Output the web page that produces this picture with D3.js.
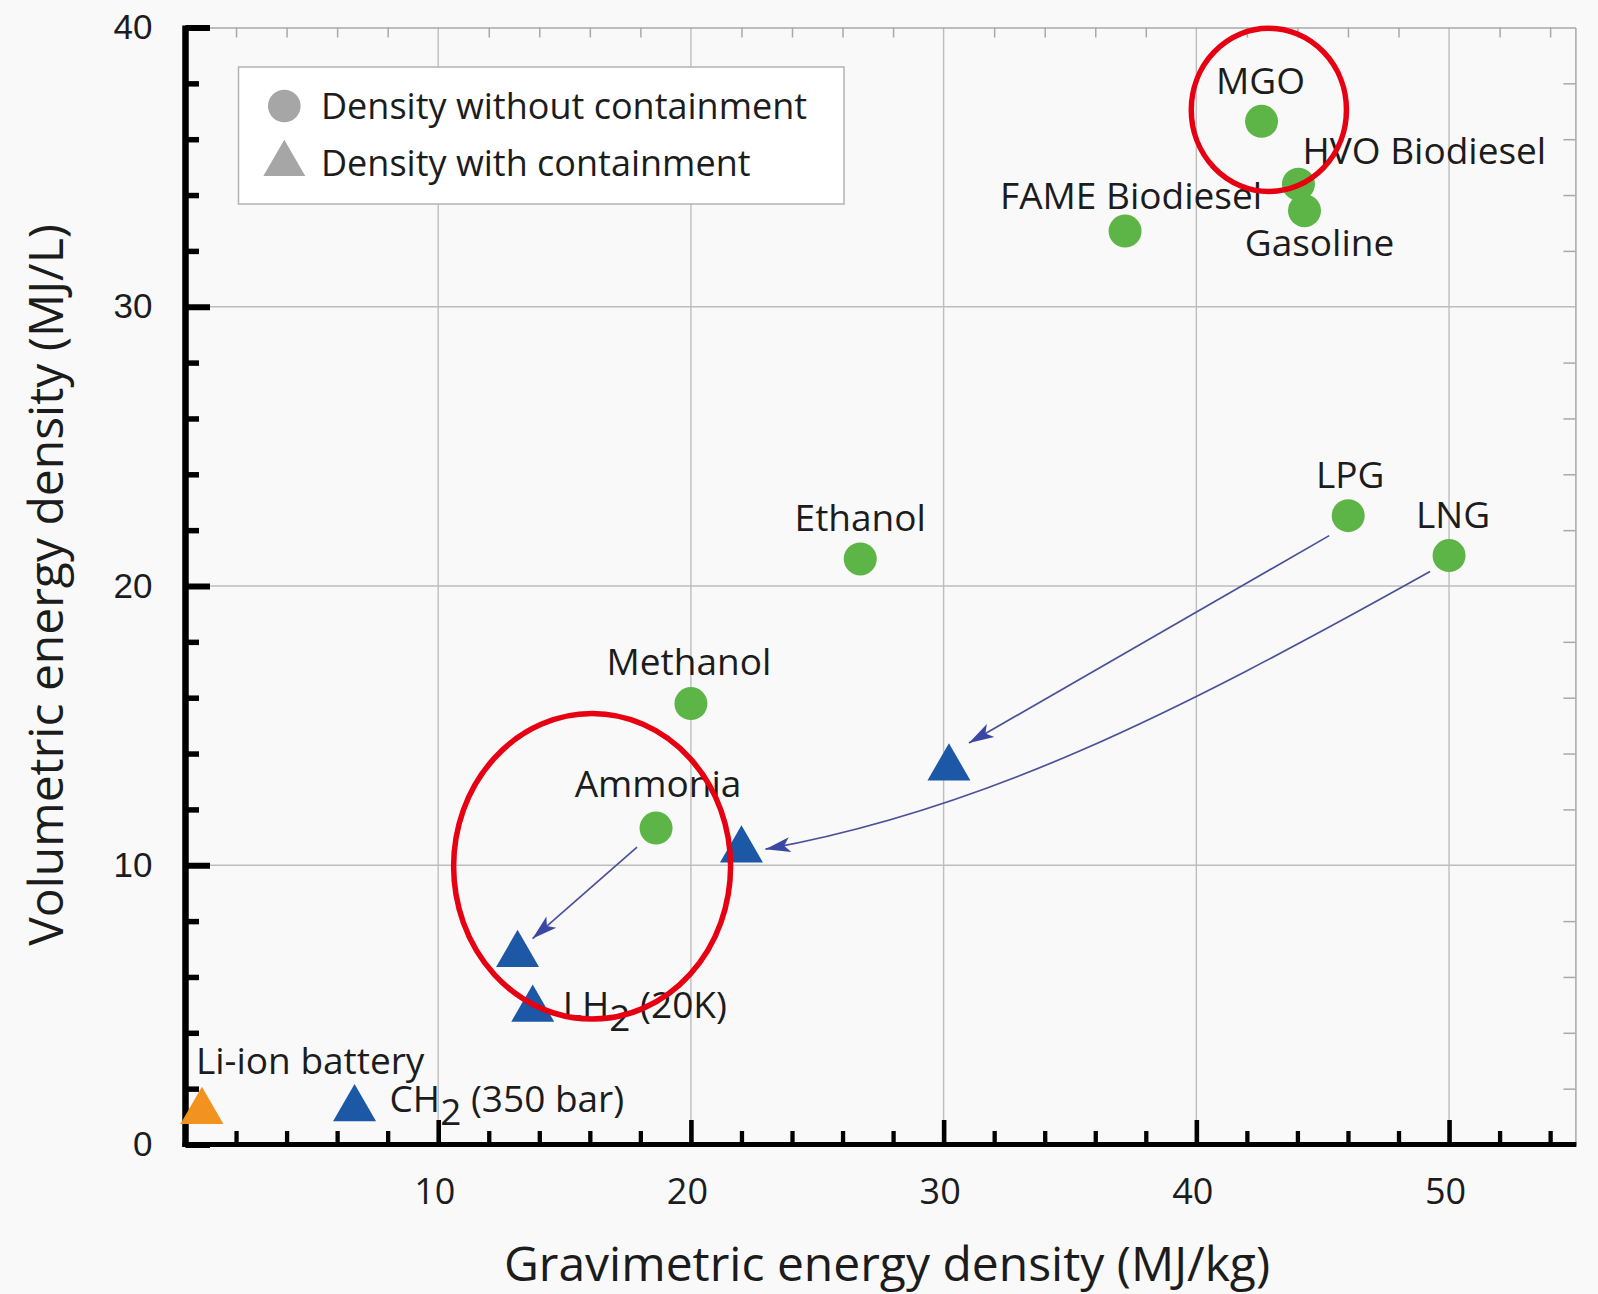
<!DOCTYPE html>
<html>
<head>
<meta charset="utf-8">
<script src="https://cdn.jsdelivr.net/npm/d3@7"></script>
<style>
  html, body { margin: 0; padding: 0; background: #f9f9f9; }
  svg { display: block; }
</style>
</head>
<body>
<svg id="chart" width="1598" height="1294"></svg>
<script>
// ---------- DATA ----------
const fuelNames = ["MGO", "HVO Biodiesel", "Gasoline", "FAME Biodiesel", "LPG", "LNG", "Ethanol", "Methanol", "Ammonia"];
const fuelGrav  = [42.58, 44.04, 44.28, 37.18, 46.01, 50.0, 26.70, 20.0, 18.62];
const fuelVol   = [36.64, 34.39, 33.44, 32.71, 22.52, 21.09, 20.97, 15.79, 11.33];

const containedNames = ["LPG", "LNG", "Ammonia", "LH2 (20K)", "CH2 (350 bar)", "Li-ion battery"];
const containedGrav  = [30.21, 22.0, 13.14, 13.74, 6.69, 0.65];
const containedVol   = [13.48, 10.54, 6.80, 4.84, 1.28, 1.18];
const containedKind  = ["fuel", "fuel", "fuel", "fuel", "fuel", "battery"];
const containedShowLabel = [false, false, false, true, true, true];

const arrowFuels = ["LPG", "LNG", "Ammonia"];   // circle -> triangle of same fuel

const xTicks = [10, 20, 30, 40, 50];
const yTicks = [0, 10, 20, 30, 40];
const xDomain = [0, 55];
const yDomain = [0, 40];

const legendLabels = ["Density without containment", "Density with containment"];
const xTitle = "Gravimetric energy density (MJ/kg)";
const yTitle = "Volumetric energy density (MJ/L)";

// red highlight ellipses (data units)
const highlightCx = [42.87, 16.09];
const highlightCy = [37.05, 9.96];
const highlightRx = [3.07, 5.48];
const highlightRy = [2.92, 5.47];

// ---------- LAYOUT / STYLE ----------
const W = 1598, H = 1294;
const plot = { left: 185.5, right: 1575.4, top: 27.5, bottom: 1144.5 };
const COLORS = {
  fuel: "#5db547", contained: "#1c58a6", battery: "#f2921f",
  legend: "#a6a6a6", grid: "#bdbdbd", frame: "#a9a9a9",
  arrow: "#4b5199", arrowHead: "#3b48a3", red: "#e60012", text: "#1c1c1c"
};
const FONT = "'Open Sans', 'Noto Sans', sans-serif";
const LABEL_SIZE = 37;

const fuelLabelLayout = {
  "MGO":            { anchor: "middle", dx: -1, dy: -27 },
  "HVO Biodiesel":  { anchor: "start",  dx: 4,  dy: -20 },
  "Gasoline":       { anchor: "middle", dx: 15, dy: 45 },
  "FAME Biodiesel": { anchor: "middle", dx: 6,  dy: -22 },
  "LPG":            { anchor: "middle", dx: 2,  dy: -28 },
  "LNG":            { anchor: "middle", dx: 4,  dy: -28 },
  "Ethanol":        { anchor: "middle", dx: 0,  dy: -28 },
  "Methanol":       { anchor: "middle", dx: -2, dy: -29 },
  "Ammonia":        { anchor: "middle", dx: 2,  dy: -31 }
};
const containedLabelLayout = {
  "LH2 (20K)":      { dx: 30, dy: 9 },
  "CH2 (350 bar)":  { dx: 35, dy: 3 },
  "Li-ion battery": { dx: -6, dy: -38 }
};
const arrowLayout = {
  "LPG":     { start: [-19, 20], end: [20, -25] },
  "LNG":     { start: [-19, 16], end: [24, -1], h1: [-265, 148], h2: [215, -39] },
  "Ammonia": { start: [-19, 19], end: [15, -16] }
};

// ---------- SCALES ----------
const x = d3.scaleLinear().domain(xDomain).range([plot.left, plot.right]);
const y = d3.scaleLinear().domain(yDomain).range([plot.bottom, plot.top]);

const svg = d3.select("#chart");
svg.append("rect").attr("width", W).attr("height", H).attr("fill", "#f9f9f9");

const minorX = d3.range(2, xDomain[1] + 1, 2).filter(v => v % 10 !== 0);
const minorY = d3.range(2, yDomain[1], 2).filter(v => v % 10 !== 0);

// grid
const grid = svg.append("g");
grid.selectAll("line.gx").data(xTicks).join("line")
  .attr("x1", d => x(d)).attr("x2", d => x(d))
  .attr("y1", plot.top).attr("y2", plot.bottom)
  .attr("stroke", COLORS.grid).attr("stroke-width", 1.4);
grid.selectAll("line.gy").data(yTicks.filter(v => v > 0 && v < 40)).join("line")
  .attr("x1", plot.left).attr("x2", plot.right)
  .attr("y1", d => y(d)).attr("y2", d => y(d))
  .attr("stroke", COLORS.grid).attr("stroke-width", 1.4);

// top & right frame with small inward ticks
const topAxis = svg.append("g").attr("transform", `translate(0,${plot.top})`)
  .call(d3.axisTop(x).tickValues(minorX).tickSize(-10).tickSizeOuter(0).tickFormat(""));
topAxis.selectAll("path, line").attr("stroke", COLORS.frame).attr("stroke-width", 1.5);
const rightAxis = svg.append("g").attr("transform", `translate(${plot.right},0)`)
  .call(d3.axisRight(y).tickValues(minorY).tickSize(-12).tickSizeOuter(0).tickFormat(""));
rightAxis.selectAll("path, line").attr("stroke", COLORS.frame).attr("stroke-width", 1.5);

// bottom axis (thick black)
const xMinor = svg.append("g").attr("transform", `translate(0,${plot.bottom})`)
  .call(d3.axisBottom(x).tickValues(minorX).tickSize(-13.5).tickSizeOuter(0).tickFormat(""));
xMinor.select(".domain").remove();
xMinor.selectAll("line").attr("stroke", "#000").attr("stroke-width", 4.3);

const xMajor = svg.append("g").attr("transform", `translate(0,${plot.bottom})`)
  .call(d3.axisBottom(x).tickValues(xTicks).tickSize(-24.5).tickSizeOuter(0).tickPadding(34));
xMajor.select(".domain").remove();
xMajor.selectAll("line").attr("stroke", "#000").attr("stroke-width", 4.6);
xMajor.selectAll("text").attr("font-family", FONT).attr("font-size", 36)
  .attr("fill", COLORS.text).attr("dx", -4);

// left axis (thick black)
const yMinor = svg.append("g").attr("transform", `translate(${plot.left},0)`)
  .call(d3.axisLeft(y).tickValues(minorY).tickSize(-13.5).tickSizeOuter(0).tickFormat(""));
yMinor.select(".domain").remove();
yMinor.selectAll("line").attr("stroke", "#000").attr("stroke-width", 5.5);

const yMajor = svg.append("g").attr("transform", `translate(${plot.left},0)`)
  .call(d3.axisLeft(y).tickValues(yTicks).tickSize(-24.5).tickSizeOuter(0).tickPadding(33));
yMajor.select(".domain").remove();
yMajor.selectAll("line").attr("stroke", "#000").attr("stroke-width", 6);
yMajor.selectAll("text").attr("font-family", "'Liberation Sans', Arial, sans-serif")
  .attr("font-size", 35).attr("fill", COLORS.text);

// axis lines
svg.append("line").attr("x1", plot.left).attr("x2", plot.left)
  .attr("y1", plot.top - 2).attr("y2", plot.bottom + 2.5)
  .attr("stroke", "#000").attr("stroke-width", 6.5);
svg.append("line").attr("x1", plot.left - 3).attr("x2", plot.right + 1)
  .attr("y1", plot.bottom).attr("y2", plot.bottom)
  .attr("stroke", "#000").attr("stroke-width", 5);

// axis titles
svg.append("text").attr("x", 887).attr("y", 1281).attr("text-anchor", "middle")
  .attr("font-family", FONT).attr("font-size", 48).attr("fill", COLORS.text).text(xTitle);
svg.append("text").attr("transform", "translate(63,585) rotate(-90)").attr("text-anchor", "middle")
  .attr("font-family", FONT).attr("font-size", 48).attr("fill", COLORS.text).text(yTitle);

// legend
const lg = svg.append("g");
lg.append("rect").attr("x", 238.5).attr("y", 67).attr("width", 605.5).attr("height", 137)
  .attr("fill", "#ffffff").attr("stroke", "#b3b3b3").attr("stroke-width", 1.5);
lg.append("circle").attr("cx", 284.3).attr("cy", 106).attr("r", 16.3).attr("fill", COLORS.legend);
lg.append("path").attr("d", d3.symbol(d3.symbolTriangle, 760)())
  .attr("transform", "translate(284.3,164)").attr("fill", COLORS.legend);
lg.selectAll("text").data(legendLabels).join("text")
  .attr("x", 321).attr("y", (d, i) => 119 + i * 57)
  .attr("font-family", FONT).attr("font-size", 36).attr("fill", COLORS.text).text(d => d);

// arrows
const fuelIndex = n => fuelNames.indexOf(n);
const contIndex = n => containedNames.indexOf(n);
const arrows = svg.append("g");
arrowFuels.forEach(name => {
  const i = fuelIndex(name), j = contIndex(name), L = arrowLayout[name];
  const p0 = [x(fuelGrav[i]) + L.start[0], y(fuelVol[i]) + L.start[1]];
  const p2 = [x(containedGrav[j]) + L.end[0], y(containedVol[j]) + L.end[1]];
  const path = d3.path();
  path.moveTo(p0[0], p0[1]);
  let dir;
  if (L.h1) {
    const c1 = [p0[0] + L.h1[0], p0[1] + L.h1[1]];
    const c2 = [p2[0] + L.h2[0], p2[1] + L.h2[1]];
    path.bezierCurveTo(c1[0], c1[1], c2[0], c2[1], p2[0], p2[1]);
    dir = [p2[0] - c2[0], p2[1] - c2[1]];
  } else {
    path.lineTo(p2[0], p2[1]);
    dir = [p2[0] - p0[0], p2[1] - p0[1]];
  }
  arrows.append("path").attr("d", path.toString()).attr("fill", "none")
    .attr("stroke", COLORS.arrow).attr("stroke-width", 1.7);
  const ang = Math.atan2(dir[1], dir[0]) * 180 / Math.PI;
  arrows.append("path").attr("d", "M0,0 L-25,-7.5 L-19,0 L-25,7.5 Z")
    .attr("transform", `translate(${p2[0]},${p2[1]}) rotate(${ang})`)
    .attr("fill", COLORS.arrowHead);
});

// fuel circles
svg.append("g").selectAll("circle").data(fuelNames).join("circle")
  .attr("cx", (d, i) => x(fuelGrav[i])).attr("cy", (d, i) => y(fuelVol[i]))
  .attr("r", 16.5).attr("fill", COLORS.fuel);

// contained triangles
svg.append("g").selectAll("path").data(containedNames).join("path")
  .attr("d", d3.symbol(d3.symbolTriangle, 800)())
  .attr("transform", (d, i) => `translate(${x(containedGrav[i])},${y(containedVol[i])})`)
  .attr("fill", (d, i) => containedKind[i] === "battery" ? COLORS.battery : COLORS.contained);

// fuel labels
svg.append("g").selectAll("text").data(fuelNames).join("text")
  .attr("x", (d, i) => x(fuelGrav[i]) + fuelLabelLayout[d].dx)
  .attr("y", (d, i) => y(fuelVol[i]) + fuelLabelLayout[d].dy)
  .attr("text-anchor", d => fuelLabelLayout[d].anchor)
  .attr("font-family", FONT).attr("font-size", LABEL_SIZE).attr("fill", COLORS.text)
  .text(d => d);

// contained labels (with subscript 2)
const cl = svg.append("g");
containedNames.forEach((name, i) => {
  if (!containedShowLabel[i]) return;
  const L = containedLabelLayout[name];
  const t = cl.append("text")
    .attr("x", x(containedGrav[i]) + L.dx).attr("y", y(containedVol[i]) + L.dy)
    .attr("font-family", FONT).attr("font-size", LABEL_SIZE).attr("fill", COLORS.text);
  const m = name.match(/^(.*?H)2(.*)$/);
  if (m) {
    t.append("tspan").text(m[1]);
    t.append("tspan").attr("dy", 13).text("2");
    t.append("tspan").attr("dy", -13).text(m[2]);
  } else {
    t.text(name);
  }
});

// red highlight ellipses (on top)
svg.append("g").selectAll("ellipse").data(highlightCx).join("ellipse")
  .attr("cx", (d, i) => x(highlightCx[i]))
  .attr("cy", (d, i) => y(highlightCy[i]))
  .attr("rx", (d, i) => x(highlightRx[i]) - x(0))
  .attr("ry", (d, i) => y(0) - y(highlightRy[i]))
  .attr("fill", "none").attr("stroke", COLORS.red).attr("stroke-width", 5.5);
</script>
</body>
</html>
